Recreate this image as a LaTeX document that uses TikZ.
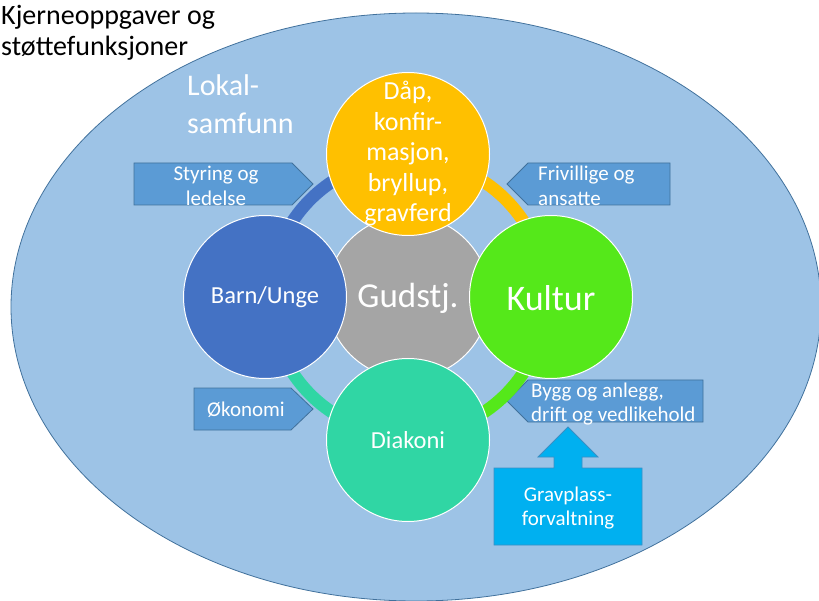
\documentclass[tikz,border=0pt]{standalone}
\usepackage{fontspec}
\setmainfont{Carlito}
\definecolor{bgell}{HTML}{9DC3E6}
\definecolor{edgeblue}{HTML}{41719C}
\definecolor{boxblue}{HTML}{5B9BD5}
\definecolor{upblue}{HTML}{00B0F0}
\definecolor{upedge}{HTML}{3A8FC4}
\definecolor{cyellow}{HTML}{FFC000}
\definecolor{cblue}{HTML}{4472C4}
\definecolor{cgreen}{HTML}{55E81A}
\definecolor{cteal}{HTML}{30D6A4}
\definecolor{cgray}{HTML}{A5A5A5}
\begin{document}
\begin{tikzpicture}[x=1pt,y=-1pt,
  bubble/.style={circle, draw=white, line width=1pt, minimum size=163pt, inner sep=0pt},
  ringseg/.style={line width=12.5pt},
  sigbox/.style={fill=boxblue, draw=edgeblue, line width=0.8pt, line join=miter},
  wtxt/.style={text=white, inner sep=0pt, align=center},
  f21/.style={font=\fontsize{21}{24.5}\selectfont},
]
\useasboundingbox (0,0) rectangle (819,601);
% background ellipse
\draw[fill=bgell, draw=edgeblue, line width=0.8pt] (416,307) ellipse[x radius=405, y radius=294];
\node[anchor=west, inner sep=0pt, align=left, font=\fontsize{28}{31}\selectfont] (title) at (1,33) {Kjerneoppgaver og\\støttefunksjoner};
\node[anchor=west, wtxt, align=left, font=\fontsize{30}{38}\selectfont] (lokal) at (187,104) {Lokal-\\samfunn};
% centre
\coordinate (c) at (408,297);
\node[bubble, fill=cgray] (gud) at (c) {};
% arrow boxes (pentagons)
\draw[sigbox] (134,163) -- (292,163) -- (313,184) -- (292,205) -- (134,205) -- cycle;
\draw[sigbox] (507,184) -- (528,163) -- (670,163) -- (670,205) -- (528,205) -- cycle;
\draw[sigbox] (194,388) -- (291,388) -- (313,409) -- (291,430) -- (194,430) -- cycle;
\draw[sigbox] (507,401) -- (528,380) -- (703,380) -- (703,422) -- (528,422) -- cycle;
% ring
\coordinate (rl) at (270,297);
\coordinate (rt) at (408,159);
\coordinate (rr) at (546,297);
\coordinate (rb) at (408,435);
\draw[ringseg, cblue] (rl) arc[start angle=180, end angle=270, radius=138];
\draw[ringseg, cyellow] (rt) arc[start angle=270, end angle=360, radius=138];
\draw[ringseg, cgreen] (rr) arc[start angle=0, end angle=90, radius=138];
\draw[ringseg, cteal] (rb) arc[start angle=90, end angle=180, radius=138];
% circles
\node[bubble, fill=cyellow] (dap) at (408,154) {};
\node[bubble, fill=cblue] (barn) at (265,297) {};
\node[bubble, fill=cgreen] (kul) at (551,297) {};
\node[bubble, fill=cteal] (dia) at (408,440) {};
% circle texts
\node[wtxt, font=\fontsize{26}{30.5}\selectfont] at (dap.center) {Dåp,\\konfir-\\masjon,\\bryllup,\\gravferd};
\node[wtxt, font=\fontsize{24.5}{28}\selectfont] at (barn.center) {Barn/Unge};
\node[wtxt, font=\fontsize{35}{40}\selectfont] at ([yshift=-1pt]gud.center) {Gudstj.};
\node[wtxt, font=\fontsize{36}{40}\selectfont] at ([yshift=-1pt]kul.center) {Kultur};
\node[wtxt, font=\fontsize{24.5}{28}\selectfont] at (dia.center) {Diakoni};
% box texts
\node[wtxt, f21] at (216,186) {Styring og\\ledelse};
\node[wtxt, f21, anchor=west, align=left] at (538,186) {Frivillige og\\ansatte};
\node[wtxt, f21] at (246,410) {Økonomi};
\node[wtxt, f21, anchor=west, align=left] at (531,404) {Bygg og anlegg,\\drift og vedlikehold};
% up arrow
\draw[fill=upblue, draw=upedge, line width=0.8pt]
  (494,468) -- (554,468) -- (554,457) -- (538,457) -- (568,427) -- (598,457)
  -- (582,457) -- (582,468) -- (642,468) -- (642,545) -- (494,545) -- cycle;
\node[wtxt, f21] (grav) at (568,508) {Gravplass-\\forvaltning};
\end{tikzpicture}
\end{document}
